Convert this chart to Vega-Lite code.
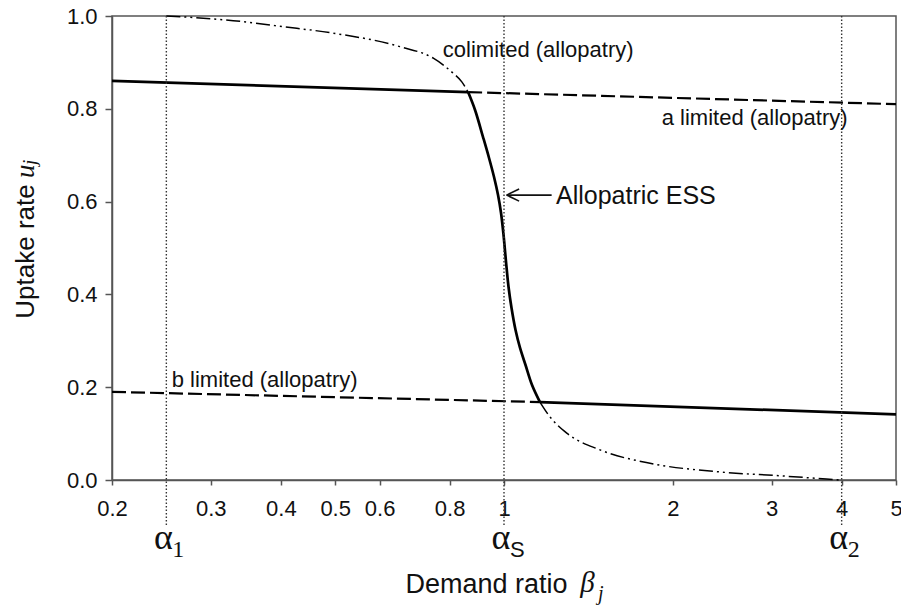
{
  "$schema": "https://vega.github.io/schema/vega-lite/v6.json",
  "width": 784,
  "height": 464,
  "autosize": {"type": "none"},
  "padding": {"left": 112, "top": 16, "right": 5, "bottom": 125},
  "background": "white",
  "config": {
    "view": {"stroke": "#555", "strokeWidth": 1.5},
    "font": "Liberation Sans"
  },
  "datasets": {
    "curves": [
      {"s": "a_solid", "x": 0.2, "y": 0.86},
      {"s": "a_solid", "x": 0.863, "y": 0.836},
      {"s": "a_dash", "x": 0.863, "y": 0.836},
      {"s": "a_dash", "x": 5, "y": 0.81},
      {"s": "b_dash", "x": 0.2, "y": 0.19},
      {"s": "b_dash", "x": 1.159, "y": 0.168},
      {"s": "b_solid", "x": 1.159, "y": 0.168},
      {"s": "b_solid", "x": 5, "y": 0.1415},
      {"s": "co_upper", "x": 0.25, "y": 1.0},
      {"s": "co_upper", "x": 0.329, "y": 0.99},
      {"s": "co_upper", "x": 0.404, "y": 0.977},
      {"s": "co_upper", "x": 0.496, "y": 0.963},
      {"s": "co_upper", "x": 0.652, "y": 0.934},
      {"s": "co_upper", "x": 0.748, "y": 0.909},
      {"s": "co_upper", "x": 0.811, "y": 0.877},
      {"s": "co_upper", "x": 0.841, "y": 0.858},
      {"s": "co_upper", "x": 0.863, "y": 0.836},
      {"s": "ess", "x": 0.863, "y": 0.836},
      {"s": "ess", "x": 0.8879, "y": 0.7974},
      {"s": "ess", "x": 0.9175, "y": 0.7392},
      {"s": "ess", "x": 0.9404, "y": 0.694},
      {"s": "ess", "x": 0.9599, "y": 0.653},
      {"s": "ess", "x": 0.9758, "y": 0.6142},
      {"s": "ess", "x": 0.9879, "y": 0.5754},
      {"s": "ess", "x": 0.9981, "y": 0.528},
      {"s": "ess", "x": 1.0084, "y": 0.4698},
      {"s": "ess", "x": 1.0188, "y": 0.4159},
      {"s": "ess", "x": 1.0314, "y": 0.3707},
      {"s": "ess", "x": 1.0485, "y": 0.3233},
      {"s": "ess", "x": 1.0681, "y": 0.2845},
      {"s": "ess", "x": 1.0924, "y": 0.2478},
      {"s": "ess", "x": 1.122, "y": 0.2047},
      {"s": "ess", "x": 1.159, "y": 0.168},
      {"s": "co_lower", "x": 1.159, "y": 0.168},
      {"s": "co_lower", "x": 1.208, "y": 0.136},
      {"s": "co_lower", "x": 1.294, "y": 0.101},
      {"s": "co_lower", "x": 1.483, "y": 0.065},
      {"s": "co_lower", "x": 1.821, "y": 0.036},
      {"s": "co_lower", "x": 2.394, "y": 0.018},
      {"s": "co_lower", "x": 3.147, "y": 0.0086},
      {"s": "co_lower", "x": 3.97, "y": 0.0}
    ],
    "vlines": [{"x": 0.25}, {"x": 1}, {"x": 4}],
    "alphas": [
      {"x": 0.25, "sub": "1", "serif": "yes"},
      {"x": 1, "sub": "S", "serif": "no"},
      {"x": 4, "sub": "2", "serif": "yes"}
    ],
    "notes": [
      {"x": 0.778, "y": 0.9116, "text": "colimited (allopatry)"},
      {"x": 1.911, "y": 0.765, "text": "a limited (allopatry)"},
      {"x": 0.2556, "y": 0.1998, "text": "b limited (allopatry)"}
    ],
    "ess": [{"x": 1.238, "y": 0.595, "text": "Allopatric ESS"}],
    "arrow": [
      {"x": 1.011, "y": 0.614, "x2": 1.216, "y2": 0.614},
      {"x": 1.011, "y": 0.614, "x2": 1.064, "y2": 0.627},
      {"x": 1.011, "y": 0.614, "x2": 1.064, "y2": 0.601}
    ],
    "ytitle": [
      {"x": 0.1452, "y": 0.651, "text": "u", "part": "main"},
      {"x": 0.1464, "y": 0.679, "text": "j", "part": "sub"}
    ],
    "xtitle": [
      {"x": 1.367, "y": -0.2414, "text": "β", "part": "main"},
      {"x": 1.471, "y": -0.2586, "text": "j", "part": "sub"}
    ]
  },
  "layer": [
    {
      "data": {"name": "curves"},
      "transform": [{"filter": {"field": "s", "oneOf": ["a_solid", "b_solid", "ess"]}}],
      "mark": {"type": "line", "color": "#000", "strokeWidth": 2.7, "interpolate": "catmull-rom"},
      "encoding": {
        "x": {
          "field": "x", "type": "quantitative",
          "scale": {"type": "log", "domain": [0.2, 5], "nice": false, "zero": false},
          "axis": {
            "values": [0.2, 0.3, 0.4, 0.5, 0.6, 0.8, 1, 2, 3, 4, 5],
            "format": "~g",
            "title": "Demand ratio",
            "titleFont": "Liberation Sans",
            "titleFontSize": 27,
            "titleFontWeight": "normal",
            "titleColor": "#111",
            "titleX": 374,
            "titleY": 112,
            "titleBaseline": "alphabetic",
            "titleAlign": "center",
            "labelFont": "Liberation Sans",
            "labelFontSize": 22,
            "labelColor": "#111",
            "labelPadding": 13,
            "labelFlush": false,
            "labelOverlap": false,
            "tickSize": 5,
            "tickColor": "#555",
            "tickWidth": 1.5,
            "domainColor": "#555",
            "domainWidth": 1.5,
            "grid": false
          }
        },
        "y": {
          "field": "y", "type": "quantitative",
          "scale": {"domain": [0, 1], "nice": false, "zero": false},
          "axis": {
            "values": [0, 0.2, 0.4, 0.6, 0.8, 1],
            "format": ".1f",
            "title": "Uptake rate",
            "titleFont": "Liberation Sans",
            "titleFontSize": 26,
            "titleFontWeight": "normal",
            "titleColor": "#111",
            "titleX": -79,
            "titleY": 235,
            "titleBaseline": "alphabetic",
            "titleAlign": "center",
            "titleAngle": 270,
            "labelFont": "Liberation Sans",
            "labelFontSize": 22,
            "labelColor": "#111",
            "labelPadding": 8,
            "labelFlush": false,
            "labelOverlap": false,
            "tickSize": 7,
            "tickColor": "#555",
            "tickWidth": 1.5,
            "domainColor": "#555",
            "domainWidth": 1.5,
            "grid": false
          }
        },
        "detail": {"field": "s"}
      }
    },
    {
      "data": {"name": "curves"},
      "transform": [{"filter": {"field": "s", "oneOf": ["a_dash", "b_dash"]}}],
      "mark": {"type": "line", "color": "#000", "strokeWidth": 2.2, "strokeDash": [14, 5]},
      "encoding": {
        "x": {"field": "x", "type": "quantitative"},
        "y": {"field": "y", "type": "quantitative"},
        "detail": {"field": "s"}
      }
    },
    {
      "data": {"name": "curves"},
      "transform": [{"filter": {"field": "s", "oneOf": ["co_upper", "co_lower"]}}],
      "mark": {"type": "line", "color": "#000", "strokeWidth": 1.5, "strokeDash": [14, 4, 2, 4, 2, 4], "interpolate": "monotone"},
      "encoding": {
        "x": {"field": "x", "type": "quantitative"},
        "y": {"field": "y", "type": "quantitative"},
        "detail": {"field": "s"}
      }
    },
    {
      "data": {"name": "vlines"},
      "mark": {"type": "rule", "color": "#333", "strokeWidth": 1.4, "strokeDash": [1.5, 2]},
      "encoding": {
        "x": {"field": "x", "type": "quantitative"},
        "y": {"datum": 1},
        "y2": {"datum": -0.1}
      }
    },
    {
      "data": {"name": "notes"},
      "mark": {"type": "text", "font": "Liberation Sans", "fontSize": 22, "align": "left", "baseline": "alphabetic", "color": "#111"},
      "encoding": {
        "x": {"field": "x", "type": "quantitative"},
        "y": {"field": "y", "type": "quantitative"},
        "text": {"field": "text"}
      }
    },
    {
      "data": {"name": "ess"},
      "mark": {"type": "text", "font": "Liberation Sans", "fontSize": 25, "align": "left", "baseline": "alphabetic", "color": "#111"},
      "encoding": {
        "x": {"field": "x", "type": "quantitative"},
        "y": {"field": "y", "type": "quantitative"},
        "text": {"field": "text"}
      }
    },
    {
      "data": {"name": "arrow"},
      "mark": {"type": "rule", "color": "#111", "strokeWidth": 1.6},
      "encoding": {
        "x": {"field": "x", "type": "quantitative"},
        "y": {"field": "y", "type": "quantitative"},
        "x2": {"field": "x2"},
        "y2": {"field": "y2"}
      }
    },
    {
      "data": {"name": "alphas"},
      "mark": {"type": "text", "text": "α", "font": "Liberation Serif", "fontSize": 36, "align": "center", "baseline": "alphabetic", "dx": -3, "color": "#111"},
      "encoding": {
        "x": {"field": "x", "type": "quantitative"},
        "y": {"datum": -0.148}
      }
    },
    {
      "data": {"name": "alphas"},
      "transform": [{"filter": "datum.serif == 'yes'"}],
      "mark": {"type": "text", "font": "Liberation Serif", "fontSize": 24, "align": "left", "baseline": "alphabetic", "dx": 6, "color": "#111"},
      "encoding": {
        "x": {"field": "x", "type": "quantitative"},
        "y": {"datum": -0.166},
        "text": {"field": "sub"}
      }
    },
    {
      "data": {"name": "alphas"},
      "transform": [{"filter": "datum.serif == 'no'"}],
      "mark": {"type": "text", "font": "Liberation Sans", "fontSize": 22, "align": "left", "baseline": "alphabetic", "dx": 6, "color": "#111"},
      "encoding": {
        "x": {"field": "x", "type": "quantitative"},
        "y": {"datum": -0.166},
        "text": {"field": "sub"}
      }
    },
    {
      "data": {"name": "ytitle"},
      "transform": [{"filter": "datum.part == 'main'"}],
      "mark": {"type": "text", "font": "Liberation Serif", "fontStyle": "italic", "fontSize": 27, "align": "left", "baseline": "alphabetic", "angle": 270, "color": "#111"},
      "encoding": {
        "x": {"field": "x", "type": "quantitative"},
        "y": {"field": "y", "type": "quantitative"},
        "text": {"field": "text"}
      }
    },
    {
      "data": {"name": "ytitle"},
      "transform": [{"filter": "datum.part == 'sub'"}],
      "mark": {"type": "text", "font": "Liberation Serif", "fontStyle": "italic", "fontSize": 19, "align": "left", "baseline": "alphabetic", "angle": 270, "color": "#111"},
      "encoding": {
        "x": {"field": "x", "type": "quantitative"},
        "y": {"field": "y", "type": "quantitative"},
        "text": {"field": "text"}
      }
    },
    {
      "data": {"name": "xtitle"},
      "transform": [{"filter": "datum.part == 'main'"}],
      "mark": {"type": "text", "font": "Liberation Serif", "fontStyle": "italic", "fontSize": 29, "align": "left", "baseline": "alphabetic", "color": "#111"},
      "encoding": {
        "x": {"field": "x", "type": "quantitative"},
        "y": {"field": "y", "type": "quantitative"},
        "text": {"field": "text"}
      }
    },
    {
      "data": {"name": "xtitle"},
      "transform": [{"filter": "datum.part == 'sub'"}],
      "mark": {"type": "text", "font": "Liberation Serif", "fontStyle": "italic", "fontSize": 20, "align": "left", "baseline": "alphabetic", "color": "#111"},
      "encoding": {
        "x": {"field": "x", "type": "quantitative"},
        "y": {"field": "y", "type": "quantitative"},
        "text": {"field": "text"}
      }
    }
  ]
}
